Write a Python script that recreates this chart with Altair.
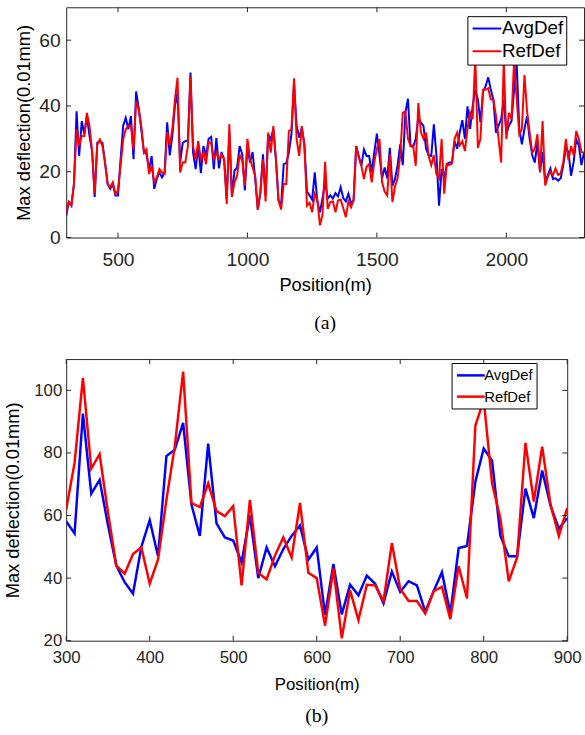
import altair as alt
import pandas as pd

# ---------------- data: panel (a) ----------------
pos_a = list(range(300, 2301, 10))
avg_a = [
    6.7, 10.8, 9.7, 16.3, 38.4, 24.8, 35.4, 31.4, 36.9, 30.9,
    26.3, 12.3, 28.8, 29.3, 28.8, 22.8, 16.3, 14.8, 16.3, 12.8,
    12.8, 23.8, 33.9, 36.4, 32.9, 36.9, 23.8, 44.4, 39.4, 32.9,
    26.3, 25.3, 20.8, 24.8, 14.8, 17.8, 19.8, 18.3, 19.8, 35.0,
    25.0, 31.0, 40.0, 44.0, 22.8, 28.8, 29.3, 29.5, 50.2, 25.8,
    20.8, 27.8, 19.6, 27.8, 24.8, 30.0, 30.6, 20.8, 30.2, 21.0,
    26.0, 23.8, 11.8, 31.9, 12.8, 20.3, 21.3, 27.8, 25.3, 14.3,
    27.8, 22.8, 26.0, 17.8, 8.5, 13.8, 25.3, 12.8, 31.4, 29.8,
    32.9, 23.8, 11.3, 9.7, 22.3, 22.6, 25.8, 31.4, 46.9, 33.9,
    30.4, 33.4, 28.3, 14.0, 12.8, 11.5, 19.8, 11.0, 7.7, 12.0,
    17.0, 11.8, 12.8, 11.8, 13.5, 12.5, 15.3, 12.0, 11.0, 13.3,
    10.5, 11.3, 27.8, 24.8, 21.8, 26.8, 24.8, 24.8, 19.8, 26.0,
    31.6, 25.0, 18.0, 21.3, 18.0, 27.3, 15.8, 17.8, 22.0, 28.3,
    22.0, 38.0, 42.2, 27.8, 27.5, 30.0, 36.4, 35.0, 33.9, 27.0,
    25.0, 24.8, 34.4, 25.0, 9.7, 20.8, 18.0, 22.3, 22.8, 22.8,
    29.3, 27.0, 32.0, 35.7, 30.0, 39.9, 33.0, 40.0, 45.0, 42.0,
    35.0, 44.4, 46.0, 48.7, 45.0, 41.9, 31.9, 34.0, 36.0, 42.0,
    31.4, 34.0, 35.4, 45.0, 53.0, 33.0, 28.3, 33.0, 36.9, 30.0,
    25.0, 22.8, 29.0, 20.0, 26.0, 17.0, 19.0, 21.0, 17.8, 18.0,
    17.3, 18.0, 22.0, 27.3, 26.0, 18.8, 23.0, 29.9, 28.0, 22.0,
    25.8,
]
ref_a = [
    7.7, 10.8, 9.7, 16.3, 32.9, 27.8, 30.9, 30.9, 37.9, 33.9,
    26.3, 13.3, 28.3, 29.8, 27.8, 22.8, 16.3, 15.3, 16.8, 13.3,
    14.3, 21.8, 29.8, 32.9, 33.9, 34.1, 26.8, 41.4, 38.9, 33.9,
    25.8, 26.8, 19.3, 21.8, 16.8, 18.3, 20.8, 19.8, 19.3, 32.0,
    28.0, 33.0, 42.0, 48.6, 19.8, 22.8, 22.8, 27.8, 49.0, 27.8,
    23.8, 29.3, 23.8, 25.8, 22.3, 29.0, 28.6, 23.8, 25.8, 23.8,
    25.3, 23.8, 10.2, 34.4, 12.3, 16.8, 18.8, 25.3, 23.3, 15.8,
    30.0, 23.8, 21.3, 18.8, 8.5, 13.8, 23.8, 11.0, 31.9, 25.8,
    33.9, 23.8, 11.3, 8.5, 16.3, 16.3, 32.4, 32.9, 48.4, 29.8,
    24.8, 33.9, 27.8, 9.7, 10.6, 7.7, 13.3, 11.5, 3.7, 7.0,
    23.0, 8.7, 10.8, 11.0, 7.7, 11.3, 11.5, 9.0, 6.2, 11.0,
    9.2, 11.3, 27.8, 24.3, 21.8, 17.8, 21.5, 22.3, 16.8, 23.0,
    27.0, 29.9, 16.8, 14.0, 12.8, 25.3, 10.8, 15.5, 18.0, 25.0,
    37.9, 38.4, 30.0, 28.0, 28.0, 21.8, 40.9, 32.0, 30.0, 31.9,
    24.8, 22.0, 25.0, 19.3, 18.0, 29.9, 13.3, 22.3, 22.0, 22.5,
    30.0, 31.9, 28.0, 29.3, 26.3, 33.0, 38.0, 36.0, 55.0, 27.3,
    30.0, 44.9, 45.0, 45.4, 42.0, 41.9, 37.0, 30.0, 22.8, 54.0,
    29.9, 37.9, 36.0, 54.0, 42.0, 31.4, 33.0, 49.4, 38.4, 32.0,
    25.8, 27.0, 31.4, 19.8, 35.4, 15.8, 18.5, 20.0, 19.0, 21.0,
    19.0, 19.5, 23.0, 29.9, 23.5, 27.8, 25.0, 32.4, 30.0, 26.0,
    25.8,
]

# ---------------- data: panel (b) ----------------
pos_b = list(range(300, 901, 10))
avg_b = [
    58.1, 54.3, 92.6, 67.0, 71.4, 57.0, 44.0, 38.7, 35.0, 50.0,
    58.5, 47.0, 79.0, 81.0, 89.6, 63.5, 53.5, 83.0, 57.5, 53.0,
    52.0, 45.0, 60.0, 40.0, 49.8, 43.8, 49.3, 53.5, 56.8, 45.9,
    49.8, 28.2, 44.5, 28.4, 37.9, 34.5, 40.8, 38.2, 31.9, 42.1,
    35.6, 39.0, 37.7, 29.3, 35.8, 41.9, 28.7, 49.6, 50.3, 70.8,
    81.4, 77.5, 53.5, 47.0, 47.0, 68.6, 59.2, 74.4, 63.2, 55.8,
    59.2,
]
ref_b = [
    62.0, 76.8, 104.0, 75.0, 79.6, 61.0, 44.0, 41.4, 47.7, 49.8,
    38.2, 46.0, 65.0, 82.0, 106.0, 64.0, 62.7, 70.3, 61.4, 59.8,
    63.0, 37.7, 65.0, 41.7, 39.6, 47.2, 53.0, 46.6, 64.0, 41.7,
    40.0, 24.8, 43.0, 20.8, 36.1, 26.6, 37.9, 37.7, 32.6, 51.2,
    36.6, 32.7, 32.7, 28.7, 35.8, 37.2, 26.9, 43.8, 33.5, 88.7,
    97.0, 70.3, 59.0, 39.0, 46.6, 83.2, 64.5, 82.0, 63.5, 53.5,
    62.4,
]

series_names = ["AvgDef", "RefDef"]
series_colors = ["#0000ff", "#ff0000"]

xticks_a = [500, 1000, 1500, 2000]
yticks_a = [0, 20, 40, 60]
xticks_b = [300, 400, 500, 600, 700, 800, 900]
yticks_b = [20, 40, 60, 80, 100]

AXIS_COLOR = "#262626"
FONT = "Liberation Sans"
SERIF = "Liberation Serif"
LEGEND_LINE = "M-1,0H3"


def long_df(pos, avg, ref):
    return pd.DataFrame({
        "Position": pos + pos,
        "Deflection": avg + ref,
        "Series": [series_names[0]] * len(pos) + [series_names[1]] * len(pos),
    })


def panel(df, xdom, ydom, xt, yt, W, H, lw, tick_fs, title_fs, xtitle_fs,
          lab_pad_x, lab_pad_y, ttl_pad_x, ttl_pad_y,
          leg_x, leg_y, leg_fs, leg_sym, leg_lab_off, leg_row, leg_pad,
          caption, cap_off):
    x_enc = alt.X(
        "Position:Q",
        scale=alt.Scale(domain=xdom, nice=False, zero=False),
        axis=alt.Axis(values=xt, ticks=False, domain=False, grid=False, format="d",
                      labelFlush=False, labelFont=FONT, labelFontSize=tick_fs,
                      labelColor=AXIS_COLOR, labelPadding=lab_pad_x,
                      title="Position(m)", titleFont=FONT,
                      titleFontSize=xtitle_fs, titleFontWeight="normal",
                      titleColor="black", titlePadding=ttl_pad_x),
    )
    y_enc = alt.Y(
        "Deflection:Q",
        scale=alt.Scale(domain=ydom, nice=False, zero=False),
        axis=alt.Axis(values=yt, ticks=False, domain=False, grid=False, format="d",
                      labelFlush=False, labelFont=FONT, labelFontSize=tick_fs,
                      labelColor=AXIS_COLOR, labelPadding=lab_pad_y,
                      title="Max deflection(0.01mm)",
                      titleFont=FONT, titleFontSize=title_fs, titleFontWeight="normal",
                      titleColor="black", titlePadding=ttl_pad_y),
    )
    lines = alt.Chart(df).mark_line(strokeWidth=lw, clip=True).encode(
        x=x_enc,
        y=y_enc,
        color=alt.Color(
            "Series:N",
            scale=alt.Scale(domain=series_names, range=series_colors),
            legend=alt.Legend(
                orient="none", legendX=leg_x, legendY=leg_y, title=None,
                symbolType=LEGEND_LINE, symbolSize=leg_sym, symbolStrokeWidth=lw,
                symbolOffset=0,
                labelFont=FONT, labelFontSize=leg_fs, labelColor="black",
                labelOffset=leg_lab_off, strokeColor="black", fillColor="white",
                padding=leg_pad, rowPadding=leg_row, cornerRadius=0,
            ),
        ),
    )
    xt_df = pd.DataFrame({"Position": xt})
    yt_df = pd.DataFrame({"Deflection": yt})
    tick_mark = dict(color=AXIS_COLOR, strokeWidth=1)
    t_bottom = alt.Chart(xt_df).mark_rule(**tick_mark).encode(
        x="Position:Q", y=alt.value(H), y2=alt.value(H - 5))
    t_top = alt.Chart(xt_df).mark_rule(**tick_mark).encode(
        x="Position:Q", y=alt.value(0), y2=alt.value(5))
    t_left = alt.Chart(yt_df).mark_rule(**tick_mark).encode(
        y="Deflection:Q", x=alt.value(0), x2=alt.value(5))
    t_right = alt.Chart(yt_df).mark_rule(**tick_mark).encode(
        y="Deflection:Q", x=alt.value(W), x2=alt.value(W - 5))
    return alt.layer(lines, t_bottom, t_top, t_left, t_right).properties(
        width=W, height=H,
        title=alt.TitleParams(caption, orient="bottom", anchor="middle",
                              font=SERIF, fontSize=20, fontWeight="normal",
                              color="black", offset=cap_off),
    )


chart_a = panel(long_df(pos_a, avg_a, ref_a), [300, 2300], [0, 70],
                xticks_a, yticks_a, 524, 233, 2.0, 19.5, 18.5, 18.5,
                13, 6, 7, 5,
                406, 9, 19, 210, 13, 3, 3, "(a)", 20)
chart_b = panel(long_df(pos_b, avg_b, ref_b), [300, 900], [20, 110],
                xticks_b, yticks_b, 507, 285, 2.5, 17, 18.5, 17,
                9, 4.5, 11, 11.5,
                390, 4, 15, 196, 12, 4.5, 4, "(b)", 14)

chart = alt.concat(chart_a, chart_b, columns=1, spacing=24).properties(
    padding={"left": 3, "top": 2, "right": 0, "bottom": 0},
    align="none",
).resolve_scale(color="independent").resolve_legend(color="independent").configure_view(
    stroke=AXIS_COLOR, strokeWidth=1)

chart.save("out.html", embed_options={"renderer": "svg", "actions": False})
